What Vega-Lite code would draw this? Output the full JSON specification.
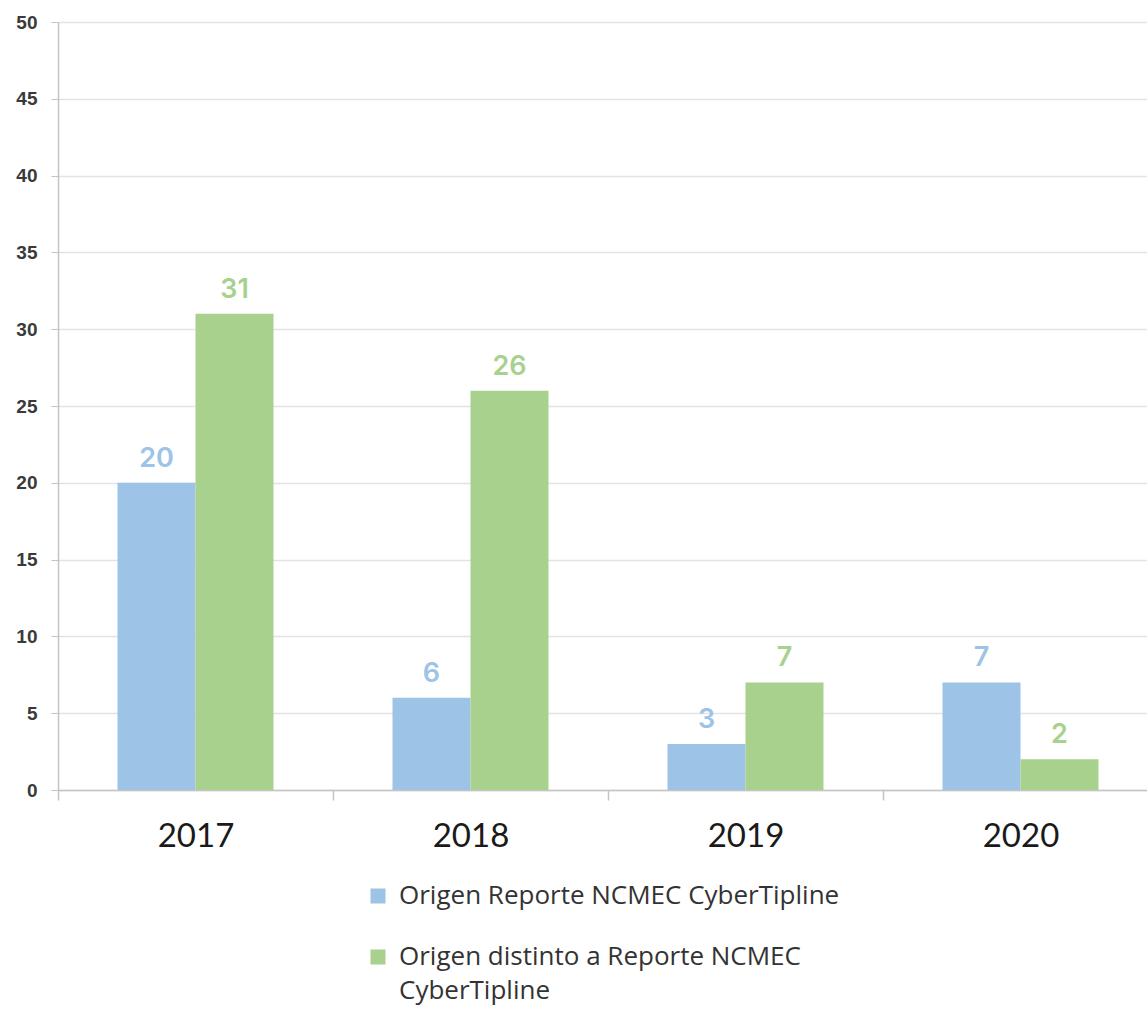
{
  "$schema": "https://vega.github.io/schema/vega-lite/v6.json",
  "autosize": {"type": "none"},
  "width": 1089,
  "height": 768,
  "padding": {"left": 58, "top": 22, "right": 0, "bottom": 219},
  "background": "white",
  "config": {"view": {"stroke": null}, "style": {"guide-label": {"lineHeight": 34}}},
  "data": {"values": [
    {"year": "2017", "serie": "Origen Reporte NCMEC CyberTipline", "value": 20},
    {"year": "2017", "serie": "Origen distinto a Reporte NCMEC CyberTipline", "value": 31},
    {"year": "2018", "serie": "Origen Reporte NCMEC CyberTipline", "value": 6},
    {"year": "2018", "serie": "Origen distinto a Reporte NCMEC CyberTipline", "value": 26},
    {"year": "2019", "serie": "Origen Reporte NCMEC CyberTipline", "value": 3},
    {"year": "2019", "serie": "Origen distinto a Reporte NCMEC CyberTipline", "value": 7},
    {"year": "2020", "serie": "Origen Reporte NCMEC CyberTipline", "value": 7},
    {"year": "2020", "serie": "Origen distinto a Reporte NCMEC CyberTipline", "value": 2}
  ]},
  "encoding": {
    "x": {"field": "year", "type": "nominal", "title": null,
      "scale": {"range": [0, 1100], "paddingInner": 0, "paddingOuter": 0},
      "axis": {"tickBand": "extent", "labelAngle": 0, "labelFont": "Lato", "labelFontSize": 33, "labelColor": "#1a1a1a", "labelPadding": 20,
        "domainColor": "#c4c4c4", "tickColor": "#c4c4c4", "tickSize": 10, "domainWidth": 1.5, "tickWidth": 1.5}},
    "xOffset": {"field": "serie", "scale": {"paddingInner": 0, "paddingOuter": 0.763}},
    "y": {"field": "value", "type": "quantitative", "title": null,
      "scale": {"domain": [0, 50]},
      "axis": {"values": [0,5,10,15,20,25,30,35,40,45,50], "labelFont": "Liberation Sans", "labelFontSize": 19, "labelFontWeight": "bold", "labelColor": "#3a3a3a", "labelPadding": 14,
        "domainColor": "#c4c4c4", "tickColor": "#c4c4c4", "tickSize": 7, "gridColor": "#e3e3e3", "gridWidth": 1.5, "domainWidth": 1.5}},
    "color": {"field": "serie", "type": "nominal",
      "scale": {"domain": ["Origen Reporte NCMEC CyberTipline", "Origen distinto a Reporte NCMEC CyberTipline"], "range": ["#9dc3e6", "#a9d18e"]},
      "legend": {"title": null, "orient": "none", "legendX": 307, "legendY": 861,
        "symbolType": "square", "symbolSize": 225, "symbolStrokeWidth": 0, "symbolOpacity": 1,
        "labelFont": "Open Sans", "labelFontSize": 26, "labelColor": "#333333", "labelLimit": 800, "labelOffset": 8,
        "rowPadding": 35, "labelExpr": "datum.label == 'Origen distinto a Reporte NCMEC CyberTipline' ? ['Origen distinto a Reporte NCMEC', 'CyberTipline'] : datum.label"}}
  },
  "layer": [
    {"mark": {"type": "bar"}},
    {"mark": {"type": "text", "dy": -24, "font": "Inter", "fontSize": 27, "fontWeight": 600},
     "encoding": {"text": {"field": "value", "type": "quantitative"}}}
  ]
}
